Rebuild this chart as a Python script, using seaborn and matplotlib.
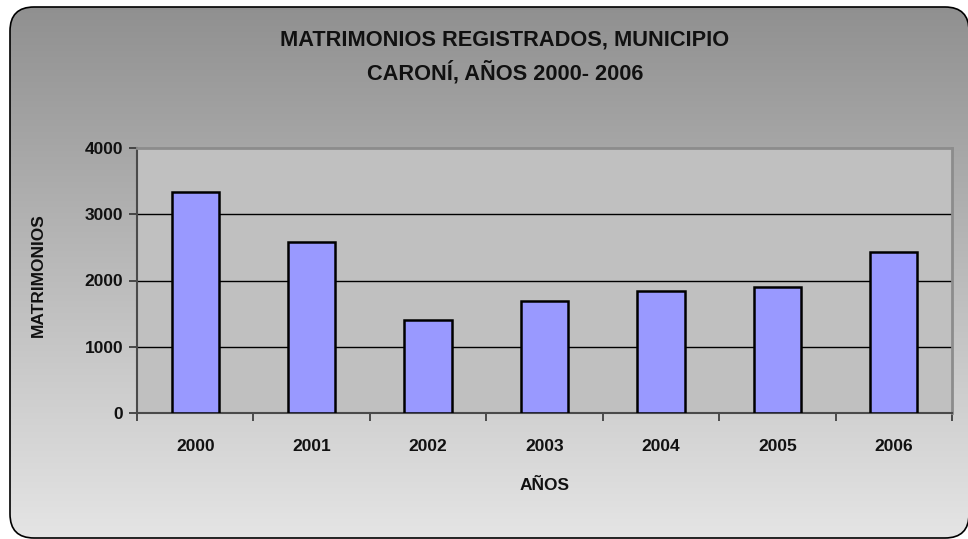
import matplotlib
matplotlib.use("Agg")
import matplotlib.pyplot as plt
import seaborn as sns
import numpy as np
from matplotlib.patches import FancyBboxPatch
from matplotlib import font_manager

years = ["2000", "2001", "2002", "2003", "2004", "2005", "2006"]
matrimonios = [3330, 2578, 1410, 1696, 1840, 1896, 2428]
y_ticks = [0, 1000, 2000, 3000, 4000]

sns.set_theme(style="white")
names = {f.name for f in font_manager.fontManager.ttflist}
fam = ["Liberation Sans Narrow", "Liberation Sans", "DejaVu Sans"]
fam = [f for f in fam if f in names] or ["DejaVu Sans"]
plt.rcParams["font.family"] = fam

W, H = 968, 539
fig = plt.figure(figsize=(W / 100, H / 100), dpi=100)
fig.patch.set_facecolor("white")

# background rounded gradient panel
bg = fig.add_axes([0, 0, 1, 1], zorder=-5)
bg.set_xlim(0, W)
bg.set_ylim(H, 0)
bg.axis("off")
grad = np.linspace(143, 229, 256)[:, None] / 255.0
grad = np.repeat(grad, 2, axis=1)
img = bg.imshow(np.dstack([grad, grad, grad]), extent=[0, W, H, 0], aspect="auto", zorder=0)
panel = FancyBboxPatch((10, 7), 969 - 10, 538 - 7, boxstyle="round,pad=0,rounding_size=24",
                       facecolor="none", edgecolor="black", linewidth=1.2, zorder=2, clip_on=False)
bg.add_patch(panel)
img.set_clip_path(panel)

ax = fig.add_axes([137 / W, 1 - 413 / H, (952 - 137) / W, (413 - 148) / H])
ax.set_facecolor("#c0c0c0")
sns.barplot(x=years, y=matrimonios, color="#9999ff", saturation=1, edgecolor="black",
            linewidth=1.8, width=0.405, ax=ax, zorder=3)
ax.set_ylim(0, 4000)
ax.set_xlim(-0.5, len(years) - 0.5)
ax.set_yticks(y_ticks)
for v in y_ticks[1:-1]:
    ax.axhline(v, color="black", linewidth=1.0, zorder=1)

for s in ["left", "bottom"]:
    ax.spines[s].set_color("#4a4a4a")
    ax.spines[s].set_linewidth(1.5)
for s in ["top", "right"]:
    ax.spines[s].set_color("#8c8c8c")
    ax.spines[s].set_linewidth(2.0)

ax.set_xticks(np.arange(-0.5, len(years), 1.0), minor=True)
ax.tick_params(axis="x", which="major", length=0, pad=19, labelsize=12.5)
ax.tick_params(axis="x", which="minor", length=6, width=1.2, color="#333333", direction="out", bottom=True)
ax.tick_params(axis="y", length=6, width=1.2, color="#333333", direction="out", left=True, pad=4, labelsize=12.5)
for lab in ax.get_xticklabels() + ax.get_yticklabels():
    lab.set_fontweight("bold")
    lab.set_color("#111111")

ax.set_xlabel("AÑOS", fontsize=12.5, fontweight="bold", labelpad=17, color="#111111")
ax.set_ylabel("MATRIMONIOS", fontsize=12.5, fontweight="bold", color="#111111")
ax.yaxis.set_label_coords(-(137 - 46) / (952 - 137), 0.52)

fig.text(505 / W, 1 - 57 / H, "MATRIMONIOS REGISTRADOS, MUNICIPIO\nCARONÍ, AÑOS 2000- 2006",
         ha="center", va="center", fontsize=15.7, fontweight="bold", color="#111111", linespacing=1.55)

fig.savefig("out.png", dpi=100)
